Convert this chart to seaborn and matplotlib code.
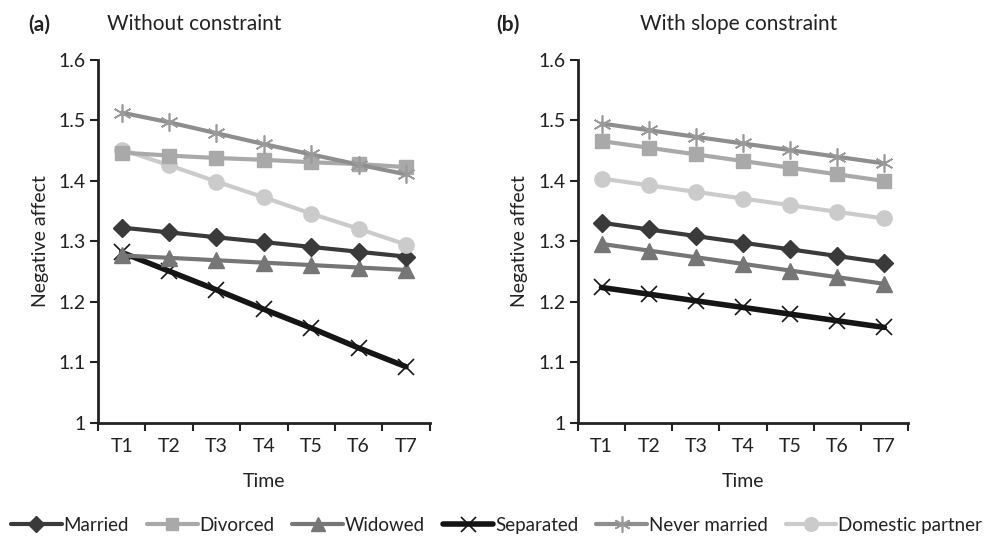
import matplotlib
matplotlib.use("Agg")
import matplotlib.pyplot as plt
import seaborn as sns
import pandas as pd
from matplotlib.lines import Line2D
from matplotlib.ticker import FixedLocator, NullFormatter

sns.set_style("white")
plt.rcParams['font.family'] = ['Lato', 'DejaVu Sans']

times = ["T1", "T2", "T3", "T4", "T5", "T6", "T7"]
groups = ["Married", "Divorced", "Widowed", "Separated", "Never married", "Domestic partner"]

# Panel (a): without constraint
a_married = [1.323, 1.315, 1.307, 1.299, 1.291, 1.283, 1.275]
a_divorced = [1.447, 1.442, 1.438, 1.435, 1.431, 1.428, 1.423]
a_widowed = [1.277, 1.273, 1.269, 1.265, 1.261, 1.257, 1.253]
a_separated = [1.282, 1.251, 1.220, 1.188, 1.157, 1.124, 1.093]
a_never = [1.513, 1.497, 1.479, 1.461, 1.444, 1.427, 1.411]
a_domestic = [1.452, 1.426, 1.399, 1.373, 1.346, 1.321, 1.295]

# Panel (b): with slope constraint
b_married = [1.331, 1.320, 1.309, 1.298, 1.287, 1.276, 1.265]
b_divorced = [1.466, 1.455, 1.444, 1.433, 1.422, 1.411, 1.400]
b_widowed = [1.296, 1.285, 1.274, 1.263, 1.252, 1.241, 1.230]
b_separated = [1.224, 1.213, 1.202, 1.191, 1.180, 1.169, 1.158]
b_never = [1.495, 1.484, 1.473, 1.462, 1.451, 1.440, 1.429]
b_domestic = [1.404, 1.393, 1.382, 1.371, 1.360, 1.349, 1.338]

panel_a = [a_married, a_divorced, a_widowed, a_separated, a_never, a_domestic]
panel_b = [b_married, b_divorced, b_widowed, b_separated, b_never, b_domestic]

styles = {
    "Married": dict(color="#3a3a3a", marker="D", ms=9, lw=3.0, mew=1, mec="#3a3a3a"),
    "Divorced": dict(color="#a9a9a9", marker="s", ms=10, lw=3.0, mew=1, mec="#a9a9a9"),
    "Widowed": dict(color="#767676", marker="^", ms=11, lw=3.0, mew=1, mec="#767676"),
    "Separated": dict(color="#151515", marker="x", ms=12, lw=4.0, mew=1.2, mec="#151515"),
    "Never married": dict(color="#8e8e8e", marker=(6, 2, 0), ms=13, lw=3.0, mew=1.2, mec="#9a9a9a"),
    "Domestic partner": dict(color="#cbcbcb", marker="o", ms=11, lw=3.0, mew=1, mec="#cbcbcb"),
}
order = ["Separated", "Widowed", "Married", "Domestic partner", "Divorced", "Never married"]

FS = 14

fig = plt.figure(figsize=(9.93, 5.40), dpi=100)
ax1 = fig.add_axes([0.0987, 0.2167, 0.334, 0.6722])
ax2 = fig.add_axes([0.582, 0.2167, 0.3324, 0.6722])

def draw(ax, data):
    for g in order:
        vals = data[groups.index(g)]
        df = pd.DataFrame({"Time": times, "val": vals})
        s = styles[g]
        sns.lineplot(data=df, x="Time", y="val", ax=ax, color=s["color"], lw=s["lw"],
                     marker=s["marker"], markersize=s["ms"], markeredgewidth=s["mew"],
                     markeredgecolor=s["mec"], sort=False, clip_on=False)
    ax.set_ylim(1.0, 1.6)
    ax.set_xlim(-0.5, 6.5)
    ax.set_yticks([1.0, 1.1, 1.2, 1.3, 1.4, 1.5, 1.6])
    ax.set_yticklabels(["1", "1.1", "1.2", "1.3", "1.4", "1.5", "1.6"])
    ax.xaxis.set_minor_locator(FixedLocator([i - 0.5 for i in range(8)]))
    ax.xaxis.set_minor_formatter(NullFormatter())
    ax.tick_params(axis="x", which="major", length=0, pad=11, labelsize=FS, colors="#222222")
    ax.tick_params(axis="x", which="minor", length=6, width=1.5, direction="out", color="#222222", bottom=True)
    ax.tick_params(axis="y", length=6, width=1.5, direction="out", labelsize=FS, colors="#222222", left=True, pad=3)
    for sp in ["top", "right"]:
        ax.spines[sp].set_visible(False)
    for sp in ["left", "bottom"]:
        ax.spines[sp].set_color("#222222")
        ax.spines[sp].set_linewidth(2)
    ax.set_xlabel("Time", fontsize=FS, color="#222222", labelpad=13)
    ax.set_ylabel("Negative affect", fontsize=FS, color="#222222", labelpad=7)

draw(ax1, panel_a)
draw(ax2, panel_b)

fig.text(0.028, 0.955, "(a)", fontsize=15, fontweight="bold", color="#222222", va="center")
fig.text(0.108, 0.955, "Without constraint", fontsize=15, color="#222222", va="center")
fig.text(0.5, 0.955, "(b)", fontsize=15, fontweight="bold", color="#222222", va="center")
fig.text(0.6445, 0.955, "With slope constraint", fontsize=15, color="#222222", va="center")

handles = []
for g in groups:
    s = styles[g]
    handles.append(Line2D([0], [0], color=s["color"], lw=s["lw"], marker=s["marker"],
                          markersize=s["ms"] * 0.9, markeredgewidth=s["mew"],
                          markeredgecolor=s["mec"]))
fig.legend(handles, groups, loc="center", bbox_to_anchor=(0.5, 0.027), ncol=6, frameon=False,
           fontsize=13.5, handlelength=2.7, handletextpad=0.1, columnspacing=0.95,
           labelcolor="#222222", borderpad=0.2)

fig.savefig("out.png", dpi=100)
